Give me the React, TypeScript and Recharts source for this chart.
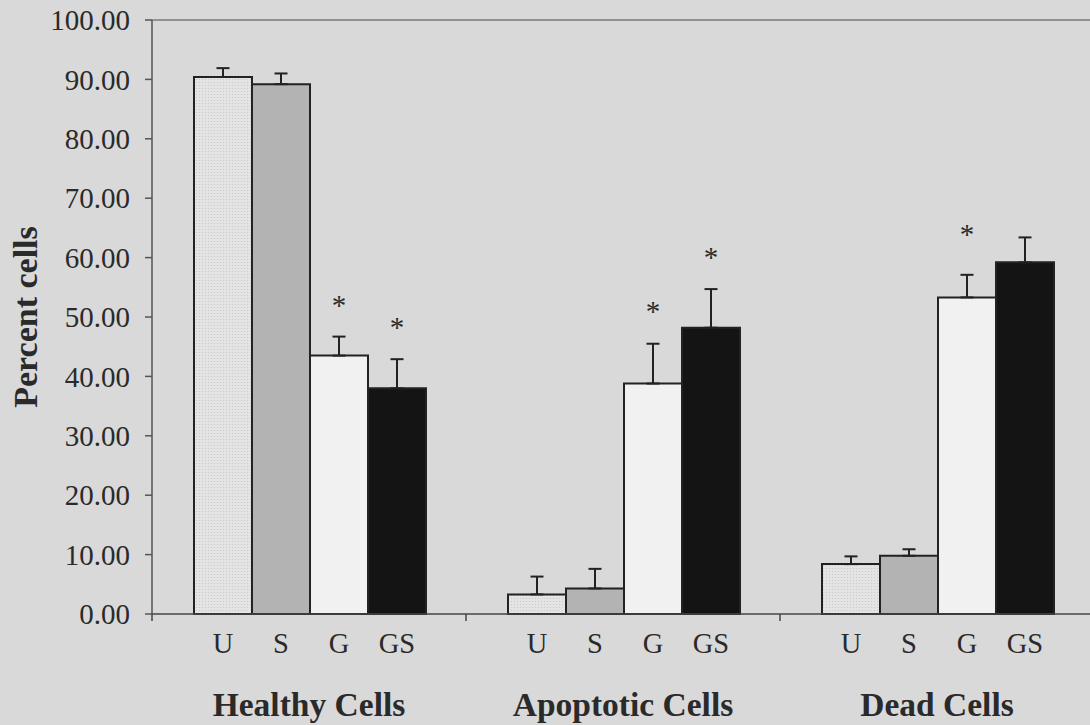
import { BarChart, Bar, XAxis, YAxis, ErrorBar, LabelList, ReferenceLine } from 'recharts'

const categories = ['Healthy Cells', 'Apoptotic Cells', 'Dead Cells']
const groups = ['U', 'S', 'G', 'GS']

const uVals = [90.4, 3.3, 8.4]
const uErr = [1.5, 3.0, 1.3]
const sVals = [89.2, 4.3, 9.8]
const sErr = [1.8, 3.3, 1.1]
const gVals = [43.5, 38.8, 53.3]
const gErr = [3.2, 6.7, 3.8]
const gsVals = [38.0, 48.2, 59.2]
const gsErr = [4.9, 6.5, 4.2]

// where the significance asterisks sit (in % units), null = none
const gStars = [52.9, 51.8, 64.8]
const gsStars = [49.2, 60.9, null]

const yTicks = [0, 10, 20, 30, 40, 50, 60, 70, 80, 90, 100]

const data = categories.map((name, i) => ({
  name,
  U: uVals[i],
  S: sVals[i],
  G: gVals[i],
  GS: gsVals[i],
  uE: [0, uErr[i]],
  sE: [0, sErr[i]],
  gE: [0, gErr[i]],
  gsE: [0, gsErr[i]],
}))

const FONT = '"Liberation Serif", "Times New Roman", serif'
const INK = '#2a2a2a'

const subLabel = (text: string) => (props: any) => {
  const vb = props.viewBox ?? props
  const cx = vb.x + vb.width / 2
  const base = vb.y + vb.height
  return (
    <text x={cx} y={base + 39} textAnchor="middle" fontFamily={FONT} fontSize={28.5} fill={INK}>
      {text}
    </text>
  )
}

const starLabel = (vals: number[], stars: (number | null)[]) => (props: any) => {
  const i = props.index
  const s = stars[i]
  if (s == null) return null
  const vb = props.viewBox ?? props
  const base = vb.y + vb.height
  const perUnit = vb.height / vals[i]
  const cy = base - s * perUnit
  return (
    <text x={vb.x + vb.width / 2} y={cy + 15} textAnchor="middle" fontFamily={FONT} fontSize={29} fill={INK}>
      *
    </text>
  )
}

const CategoryTick = (props: any) => {
  const { x, y, payload, index, visibleTicksCount, width } = props
  const half = (width || 941) / (visibleTicksCount || 3) / 2
  return (
    <g>
      <line x1={x - half} x2={x - half} y1={y} y2={y + 7} stroke="#444" strokeWidth={1.5} />
      {index === (visibleTicksCount || 3) - 1 && (
        <line x1={x + half} x2={x + half} y1={y} y2={y + 7} stroke="#444" strokeWidth={1.5} />
      )}
      <text x={x} y={y + 102} textAnchor="middle" fontFamily={FONT} fontSize={33.5} fontWeight="bold" fill={INK}>
        {payload.value}
      </text>
    </g>
  )
}

const YLabel = (props: any) => {
  const vb = props.viewBox
  const cx = vb.x + 37
  const cy = vb.y + vb.height / 2
  return (
    <text
      x={cx}
      y={cy}
      transform={`rotate(-90, ${cx}, ${cy})`}
      textAnchor="middle"
      fontFamily={FONT}
      fontSize={34}
      fontWeight="bold"
      fill={INK}
    >
      Percent cells
    </text>
  )
}

const fills = ['url(#dots)', '#b3b3b3', '#f1f1f1', '#141414']
const errKeys = ['uE', 'sE', 'gE', 'gsE']

export default function App() {
  return (
    <div style={{ position: 'absolute', left: 0, top: 0, width: 1090, height: 725, overflow: 'hidden', background: '#d9d9d9' }}>
      <svg width={0} height={0} style={{ position: 'absolute' }}>
        <defs>
          <pattern id="dots" width={3} height={3} patternUnits="userSpaceOnUse">
            <rect width={3} height={3} fill="#e4e4e4" />
            <circle cx={1.5} cy={1.5} r={0.6} fill="#c6c6c6" />
          </pattern>
        </defs>
      </svg>
      <BarChart
        width={1100}
        height={725}
        data={data}
        margin={{ top: 20, right: 6, left: 0, bottom: 0 }}
        barCategoryGap={42}
        barGap={0}
      >
        <ReferenceLine y={100} stroke="#7a7a7a" strokeWidth={1.5} />
        <XAxis
          dataKey="name"
          height={111}
          tickLine={false}
          tickSize={0}
          tickMargin={0}
          axisLine={{ stroke: '#444', strokeWidth: 1.5 }}
          tick={<CategoryTick />}
          interval={0}
        />
        <YAxis
          width={152}
          domain={[0, 100]}
          ticks={yTicks}
          tickFormatter={(v: number) => v.toFixed(2)}
          tickSize={7}
          tickMargin={15}
          axisLine={{ stroke: '#555', strokeWidth: 1.5 }}
          tickLine={{ stroke: '#555', strokeWidth: 1.5 }}
          tick={{ fontFamily: FONT, fontSize: 29, fill: INK }}
          label={<YLabel />}
        />
        {groups.map((g, k) => (
          <Bar key={g} dataKey={g} fill={fills[k]} stroke="#222" strokeWidth={2} isAnimationActive={false}>
            <ErrorBar dataKey={errKeys[k]} width={6.5} stroke="#222" strokeWidth={2} direction="y" />
            <LabelList content={subLabel(g)} />
            {g === 'G' && <LabelList content={starLabel(gVals, gStars)} />}
            {g === 'GS' && <LabelList content={starLabel(gsVals, gsStars)} />}
          </Bar>
        ))}
      </BarChart>
    </div>
  )
}
